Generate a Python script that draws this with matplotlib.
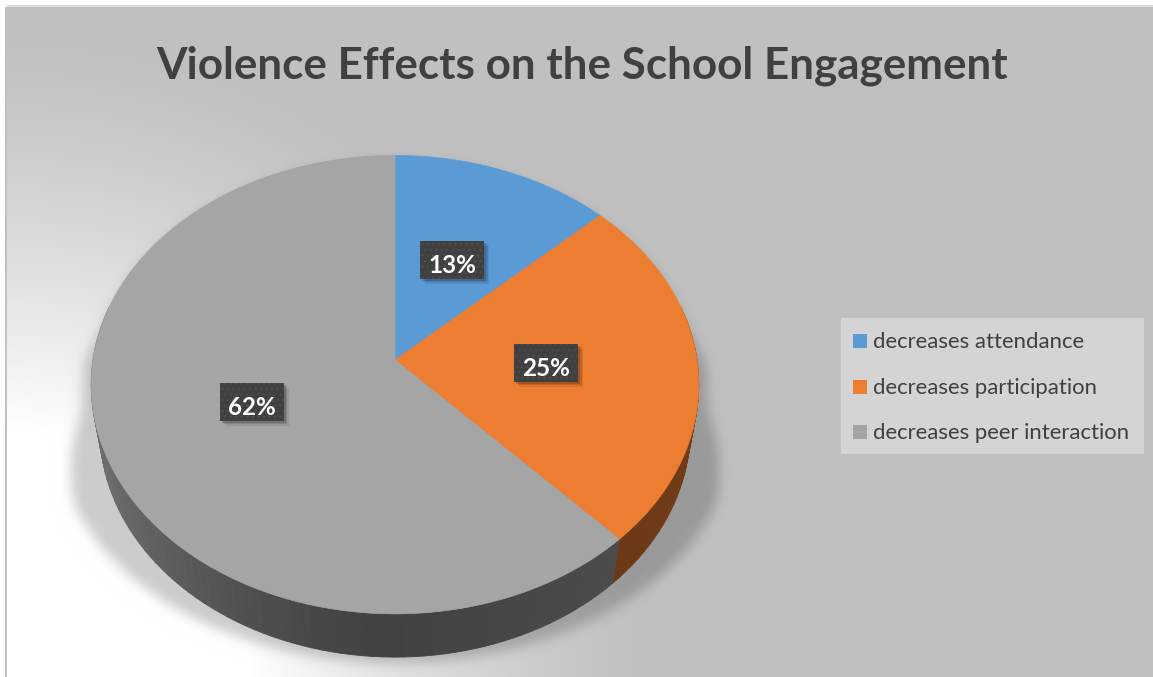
import numpy as np
import matplotlib.pyplot as plt
from matplotlib.path import Path
from matplotlib.patches import Polygon, Rectangle
from matplotlib.collections import PolyCollection
from matplotlib.colors import to_rgb

title = "Violence Effects on the School Engagement"
categories = ["decreases attendance", "decreases participation", "decreases peer interaction"]
shares = [13, 25, 62]
colors = ["#5B9BD5", "#ED7D31", "#A5A5A5"]

FONT = ["Lato", "DejaVu Sans"]
W, H = 1153, 677

# 3d pie: centre and radius in pixels, camera elevation / distance, disc thickness
CX, CY, RAD = 395, 360, 302
ELEV = np.radians(48.6)
DIST = 6.14
THICK = 0.236


def project(theta, r=1.0, z=0.0):
    # theta runs clockwise from 12 o'clock, z is height above the top face
    theta = np.asarray(theta, dtype=float)
    u = r * np.sin(theta)
    v = r * np.cos(theta)
    yc = v * np.sin(ELEV) + z * np.cos(ELEV)
    zc = DIST + v * np.cos(ELEV) - z * np.sin(ELEV)
    return CX + RAD * u * DIST / zc, CY - RAD * yc * DIST / zc


def blur(img, sigma):
    r = int(3 * sigma)
    x = np.arange(-r, r + 1)
    k = np.exp(-x**2 / (2 * sigma**2))
    k /= k.sum()
    img = np.apply_along_axis(lambda m: np.convolve(m, k, mode="same"), 0, img)
    img = np.apply_along_axis(lambda m: np.convolve(m, k, mode="same"), 1, img)
    return img


fig = plt.figure(figsize=(W / 100, H / 100), dpi=100)
ax = fig.add_axes([0, 0, 1, 1])
ax.set_xlim(0, W)
ax.set_ylim(H, 0)
ax.axis("off")

# background: grey fill brightening towards the lower-left corner
yy, xx = np.mgrid[0:H, 0:W] + 0.5
d = np.hypot(xx - 7, yy - 672)
f = np.clip((640 - d) / 400, 0, 1) ** 1.3
grey = 192 / 255
bg = grey + f * (1 - grey)

# soft perspective shadow under the pie
tb = np.linspace(-np.pi / 2, np.pi / 2, 200)
tf = np.linspace(np.pi / 2, 3 * np.pi / 2, 200)
bx, by = project(tb)
fx, fy = project(tf, z=-THICK)
sx = np.concatenate([bx, fx])
sy = np.concatenate([by, fy])
k = 1 + 0.14 * np.clip((sy - 320) / 180, 0, 1)
sx = CX + (sx - CX) * k
sy = sy + 6
inside = Path(np.column_stack([sx, sy])).contains_points(
    np.column_stack([xx.ravel(), yy.ravel()])).reshape(H, W).astype(float)
bg = bg * (1 - 0.2 * blur(inside, 6))

# chart area frame
bg[:7, :] = 1.0
bg[:, :7] = 1.0
bg[7:, 5:7] = 0.76
bg[5:7, 7:] = 0.86
ax.imshow(np.dstack([bg] * 3), extent=(0, W, H, 0), aspect="auto",
          interpolation="bilinear", zorder=0)

edges = np.concatenate([[0], np.cumsum(shares)]) / sum(shares) * 2 * np.pi

# side wall
polys, fcs = [], []
for i, c in enumerate(colors):
    th = np.linspace(edges[i], edges[i + 1], max(4, int(shares[i] * 2)))
    base = np.array(to_rgb(c))
    for t0, t1 in zip(th[:-1], th[1:]):
        mid = (t0 + t1) / 2
        if np.cos(mid) > 0.25:
            continue
        x0, y0 = project([t0, t1])
        x1, y1 = project([t1, t0], z=-THICK)
        polys.append(np.column_stack([np.concatenate([x0, x1]), np.concatenate([y0, y1])]))
        shade = 0.40 + 0.28 * max(0, -np.sin(mid)) ** 1.5 + 0.08 * max(0, np.sin(mid))
        fcs.append(np.clip(base * shade, 0, 1))
ax.add_collection(PolyCollection(polys, facecolors=fcs, edgecolors=fcs,
                                 linewidths=0.6, zorder=2))

# top face
for i, c in enumerate(colors):
    th = np.linspace(edges[i], edges[i + 1], 120)
    px, py = project(th)
    pts = np.column_stack([np.concatenate([[CX], px]), np.concatenate([[CY], py])])
    ax.add_patch(Polygon(pts, closed=True, fc=c, ec=c, lw=0.5, zorder=3))

# data labels
for i, v in enumerate(shares):
    mid = (edges[i] + edges[i + 1]) / 2
    lx, ly = project(mid, r=0.5)
    base = ly + 12
    for off, a in [(5, 0.08), (3.5, 0.12), (2, 0.15)]:
        ax.add_patch(Rectangle((lx - 32 + off, base - 32 + off), 64, 38,
                               fc="black", alpha=a, lw=0, zorder=4))
    ax.add_patch(Rectangle((lx - 32, base - 32), 64, 38, fc="#404040",
                           ec="#4c4c4c", lw=0, hatch="...", zorder=5))
    ax.text(lx, base, f"{v}%", ha="center", va="baseline", color="white",
            fontsize=17.5, fontweight="bold", family=FONT, zorder=6)

renderer = fig.canvas.get_renderer()

# title
t = ax.text(582.5, 79, title, ha="center", va="baseline", fontsize=30,
            fontweight="bold", color="#404040", family=FONT, zorder=6)
t.set_fontsize(t.get_fontsize() * 851 / t.get_window_extent(renderer).width)

# legend
ax.add_patch(Rectangle((841, 318), 303, 136, fc="#d4d4d4", lw=0, zorder=4))
labels = []
for i, (name, c) in enumerate(zip(categories, colors)):
    cy = 341 + 45.5 * i
    ax.add_patch(Rectangle((853, cy - 7), 14, 14, fc=c, lw=0, zorder=5))
    labels.append(ax.text(873, cy + 7, name, ha="left", va="baseline", fontsize=14,
                          color="#404040", family=FONT, zorder=6))
widest = max(lb.get_window_extent(renderer).width for lb in labels)
for lb in labels:
    lb.set_fontsize(lb.get_fontsize() * 257 / widest)

fig.savefig("out.png", dpi=100)
